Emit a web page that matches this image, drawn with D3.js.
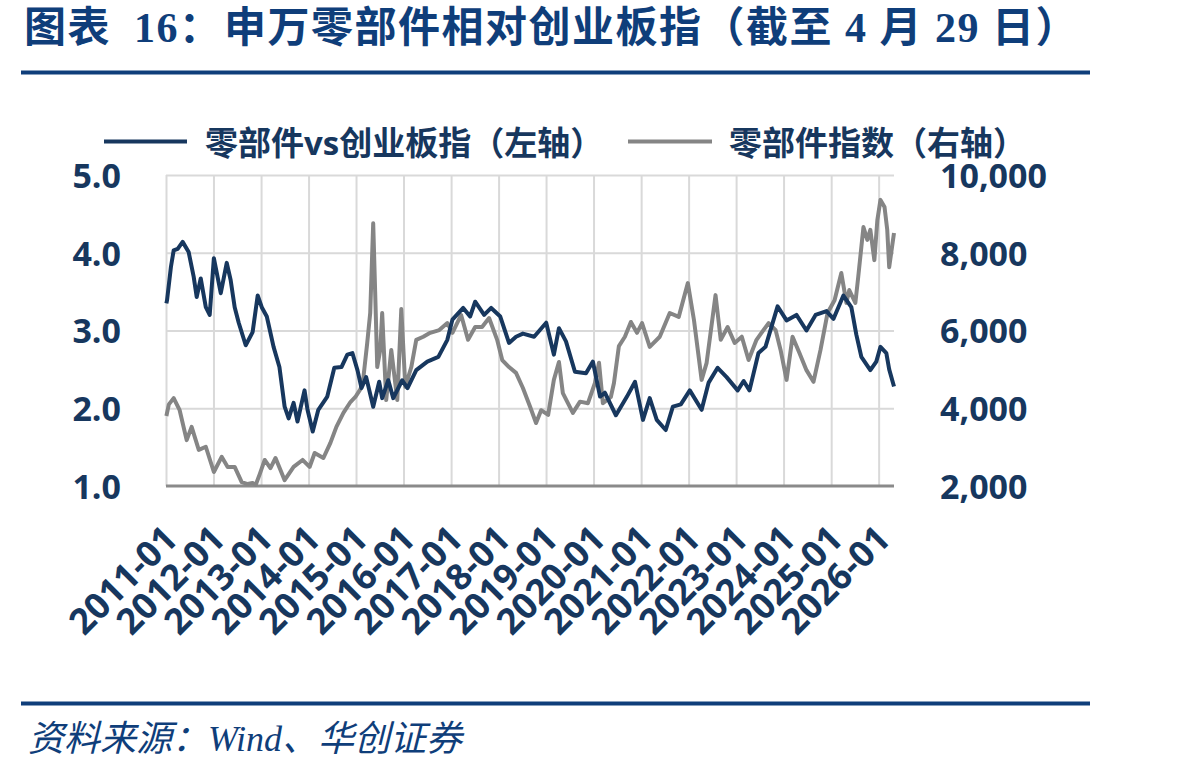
<!DOCTYPE html>
<html>
<head>
<meta charset="utf-8">
<script src="https://cdn.jsdelivr.net/npm/d3@7"></script>
<style>
  body { margin: 0; background: #fff; }
  svg { display: block; }
</style>
</head>
<body>
<div id="chart"></div>
<script>
// 零部件vs创业板指（左轴）
const relDates = [
  "2011-01-04","2011-01-09","2011-02-08","2011-03-01","2011-04-01","2011-05-09","2011-06-24","2011-08-02","2011-08-25","2011-09-25",
  "2011-11-03","2011-12-03","2012-01-04","2012-02-26","2012-04-12","2012-05-12","2012-06-12","2012-07-13","2012-09-05","2012-10-28",
  "2012-12-06","2013-01-06","2013-02-14","2013-04-07","2013-05-22","2013-07-01","2013-08-01","2013-09-08","2013-10-08","2013-12-01",
  "2013-12-24","2014-02-02","2014-03-17","2014-05-25","2014-07-18","2014-09-11","2014-10-26","2014-12-04","2015-01-12","2015-02-12",
  "2015-03-20","2015-05-13","2015-06-28","2015-07-21","2015-09-06","2015-10-14","2015-12-22","2016-02-01","2016-04-08","2016-07-02",
  "2016-09-25","2016-12-03","2017-01-11","2017-04-04","2017-05-27","2017-07-05","2017-09-12","2017-11-05","2018-01-14","2018-03-22",
  "2018-05-15","2018-07-07","2018-10-01","2019-01-02","2019-03-02","2019-04-10","2019-06-03","2019-08-11","2019-11-04","2019-12-27",
  "2020-02-20","2020-03-28","2020-06-21","2020-09-14","2020-11-15","2021-01-15","2021-03-08","2021-05-01","2021-07-09","2021-09-02",
  "2021-11-02","2022-01-10","2022-04-11","2022-06-04","2022-08-12","2022-10-20","2023-01-13","2023-02-28","2023-04-14","2023-06-22",
  "2023-08-15","2023-11-16","2024-01-24","2024-04-09","2024-06-25","2024-09-03","2024-11-26","2025-01-19","2025-04-05","2025-06-05",
  "2025-07-13","2025-08-21","2025-10-29","2025-12-14","2026-01-15","2026-03-01","2026-03-23","2026-04-29"
];
const relValues = [
  3.35, 3.39, 3.82, 4.03, 4.05, 4.14, 4.01, 3.69, 3.43, 3.67,
  3.30, 3.20, 3.93, 3.48, 3.87, 3.65, 3.30, 3.10, 2.81, 2.98,
  3.45, 3.30, 3.18, 2.79, 2.53, 2.02, 1.87, 2.07, 1.83, 2.23,
  1.98, 1.70, 1.98, 2.15, 2.52, 2.53, 2.69, 2.71, 2.49, 2.26,
  2.40, 2.02, 2.34, 2.13, 2.36, 2.13, 2.36, 2.26, 2.49, 2.60,
  2.66, 2.88, 3.14, 3.29, 3.18, 3.37, 3.20, 3.29, 3.18, 2.84,
  2.92, 2.96, 2.92, 3.10, 2.69, 3.03, 2.86, 2.47, 2.45, 2.60,
  2.15, 2.20, 1.91, 2.15, 2.34, 1.85, 2.13, 1.85, 1.72, 2.02,
  2.05, 2.23, 1.98, 2.33, 2.52, 2.40, 2.23, 2.35, 2.23, 2.71,
  2.79, 3.31, 3.13, 3.20, 3.00, 3.20, 3.25, 3.15, 3.45, 3.30,
  2.95, 2.66, 2.49, 2.60, 2.79, 2.71, 2.50, 2.28
];

// 零部件指数（右轴）
const idxDates = [
  "2011-01-04","2011-01-09","2011-01-23","2011-03-01","2011-04-16","2011-06-09","2011-07-17","2011-09-10","2011-11-03","2012-01-04",
  "2012-03-04","2012-04-19","2012-06-12","2012-08-05","2012-09-20","2012-10-28","2012-11-21","2012-12-21","2013-01-29","2013-03-14",
  "2013-04-22","2013-05-30","2013-07-01","2013-09-08","2013-11-16","2014-01-09","2014-02-17","2014-04-25","2014-06-18","2014-08-03",
  "2014-09-26","2014-11-19","2014-12-27","2015-02-05","2015-02-27","2015-03-28","2015-04-20","2015-05-13","2015-05-28","2015-06-13",
  "2015-07-06","2015-07-21","2015-08-21","2015-09-29","2015-11-14","2015-12-15","2016-01-15","2016-03-01","2016-04-08","2016-06-01",
  "2016-07-24","2016-10-02","2016-12-03","2017-01-11","2017-03-19","2017-05-11","2017-07-05","2017-08-27","2017-10-20","2017-12-21",
  "2018-01-29","2018-03-22","2018-05-15","2018-07-07","2018-09-01","2018-10-16","2018-11-24","2019-01-17","2019-03-02","2019-04-10",
  "2019-05-10","2019-07-26","2019-09-19","2019-11-19","2020-01-12","2020-02-12","2020-03-13","2020-05-13","2020-06-06","2020-07-14",
  "2020-08-29","2020-10-14","2020-11-30","2021-01-08","2021-03-08","2021-05-24","2021-08-09","2021-10-17","2021-12-26","2022-02-11",
  "2022-04-11","2022-05-19","2022-07-27","2022-09-05","2022-10-28","2022-12-21","2023-02-14","2023-04-07","2023-06-07","2023-07-15",
  "2023-09-08","2023-11-01","2023-12-09","2024-01-24","2024-03-10","2024-05-02","2024-06-25","2024-08-18","2024-10-11","2024-12-04",
  "2025-01-27","2025-03-20","2025-04-28","2025-05-20","2025-07-06","2025-07-28","2025-09-06","2025-10-06","2025-10-29","2025-11-29",
  "2025-12-22","2026-01-15","2026-02-15","2026-03-08","2026-03-23","2026-04-29"
];
const idxValues = [
  3800, 3880, 4100, 4260, 3950, 3180, 3520, 2930, 3010, 2360,
  2750, 2490, 2490, 2100, 2050, 2080, 2030, 2300, 2670, 2460,
  2720, 2410, 2150, 2490, 2670, 2490, 2850, 2720, 3110, 3520,
  3880, 4160, 4290, 4500, 4800, 5680, 6450, 8760, 7000, 5060,
  5500, 6450, 4210, 5500, 4210, 6550, 4550, 5060, 5760, 5840,
  5940, 6010, 6190, 5940, 6400, 5760, 6090, 6090, 6320, 5760,
  5240, 5060, 4910, 4520, 4030, 3620, 3950, 3830, 4730, 5190,
  4390, 3880, 4170, 4130, 4650, 5170, 4130, 4290, 4650, 5600,
  5840, 6220, 5940, 6190, 5580, 5840, 6450, 6350, 7220, 6270,
  4730, 5160, 6910, 5760, 6090, 5680, 5840, 5240, 5760, 5940,
  6190, 6010, 5500, 4730, 5840, 5420, 4980, 4680, 5500, 6450,
  6780, 7480, 6710, 7040, 6710, 7380, 8660, 8330, 8590, 7810,
  8840, 9360, 9180, 8590, 7630, 8510
];

const leftTicks = [1, 2, 3, 4, 5];
const rightTicks = [2000, 4000, 6000, 8000, 10000];
const yearTicks = ["2011-01","2012-01","2013-01","2014-01","2015-01","2016-01","2017-01","2018-01",
                   "2019-01","2020-01","2021-01","2022-01","2023-01","2024-01","2025-01","2026-01"];
const dateRange = ["2011-01-01", "2026-04-29"];

const seriesNames = ["零部件vs创业板指（左轴）", "零部件指数（右轴）"];
const titleLead = ["图表", "16："];
const titleMain = "申万零部件相对创业板指（截至 4 月 29 日）";
const sourceText = "资料来源：Wind、华创证券";

const width = 1198, height = 771;
const plot = { left: 166, right: 894, top: 175, bottom: 486 };
const navy = "#17375e", brand = "#0f3e7a", grey = "#858585", grid = "#d9d9d9";
const numFont = "'Open Sans', 'Noto Sans CJK SC', sans-serif";

const parseDay = d3.timeParse("%Y-%m-%d");
const parseMonth = d3.timeParse("%Y-%m");

const rel = relDates.map((d, i) => ({ date: parseDay(d), value: relValues[i] }));
const idx = idxDates.map((d, i) => ({ date: parseDay(d), value: idxValues[i] }));

const svg = d3.select("#chart").append("svg")
  .attr("width", width)
  .attr("height", height);

const x = d3.scaleTime()
  .domain(dateRange.map(parseDay))
  .range([plot.left, plot.right]);
const yLeft = d3.scaleLinear().domain([1, 5]).range([plot.bottom, plot.top]);
const yRight = d3.scaleLinear().domain([2000, 10000]).range([plot.bottom, plot.top]);

// title
const title = svg.append("text")
  .attr("y", 42)
  .attr("font-family", "'Liberation Serif', 'Noto Sans CJK SC', serif")
  .attr("font-weight", "bold")
  .attr("font-size", 42)
  .attr("letter-spacing", 1.5)
  .attr("fill", brand);
title.append("tspan").attr("x", 24).text(titleLead[0]);
title.append("tspan").attr("x", 134).text(titleLead[1]);
title.append("tspan").attr("x", 224).text(titleMain);

svg.append("rect").attr("x", 21).attr("y", 70.5).attr("width", 1069).attr("height", 4).attr("fill", brand);
svg.append("rect").attr("x", 21).attr("y", 701.5).attr("width", 1069).attr("height", 4).attr("fill", brand);

svg.append("text")
  .attr("x", 28)
  .attr("y", 751)
  .attr("font-family", "'Liberation Serif', 'Noto Sans CJK SC', serif")
  .attr("font-style", "italic")
  .attr("font-size", 36)
  .attr("fill", brand)
  .text(sourceText);

// legend
const legend = [
  { name: seriesNames[0], color: navy, x1: 104, x2: 187, tx: 205 },
  { name: seriesNames[1], color: grey, x1: 628, x2: 712, tx: 729 }
];
legend.forEach(l => {
  svg.append("line")
    .attr("x1", l.x1).attr("x2", l.x2)
    .attr("y1", 141.5).attr("y2", 141.5)
    .attr("stroke", l.color).attr("stroke-width", 4);
  svg.append("text")
    .attr("x", l.tx).attr("y", 155)
    .attr("font-family", numFont)
    .attr("font-weight", "bold")
    .attr("font-size", 33)
    .attr("fill", navy)
    .text(l.name);
});

// grid
svg.append("g")
  .attr("transform", `translate(0,${plot.bottom})`)
  .call(d3.axisBottom(x)
    .tickValues(yearTicks.map(parseMonth))
    .tickSize(-(plot.bottom - plot.top))
    .tickFormat(""))
  .call(g => g.select(".domain").remove())
  .call(g => g.selectAll("line").attr("stroke", grid).attr("stroke-width", 2));

svg.append("g")
  .attr("transform", `translate(${plot.left},0)`)
  .call(d3.axisLeft(yLeft)
    .tickValues(leftTicks.slice(1))
    .tickSize(-(plot.right - plot.left))
    .tickFormat(""))
  .call(g => g.select(".domain").remove())
  .call(g => g.selectAll("line").attr("stroke", grid).attr("stroke-width", 2));

// bottom axis line
svg.append("line")
  .attr("x1", plot.left).attr("x2", plot.right)
  .attr("y1", plot.bottom).attr("y2", plot.bottom)
  .attr("stroke", "#8a8a8a").attr("stroke-width", 3);

// series
const lineRel = d3.line().x(d => x(d.date)).y(d => yLeft(d.value));
const lineIdx = d3.line().x(d => x(d.date)).y(d => yRight(d.value));

svg.append("path").datum(idx)
  .attr("d", lineIdx)
  .attr("fill", "none").attr("stroke", grey)
  .attr("stroke-width", 4).attr("stroke-linejoin", "round");

svg.append("path").datum(rel)
  .attr("d", lineRel)
  .attr("fill", "none").attr("stroke", navy)
  .attr("stroke-width", 4).attr("stroke-linejoin", "round");

// axes labels
const styleTicks = g => g.selectAll("text")
  .attr("font-family", numFont)
  .attr("font-weight", "bold")
  .attr("font-size", 34)
  .attr("fill", navy);

svg.append("g")
  .attr("transform", `translate(${plot.left},0)`)
  .call(d3.axisLeft(yLeft).tickValues(leftTicks).tickFormat(d3.format(".1f")).tickSize(0).tickPadding(45))
  .call(g => g.select(".domain").remove())
  .call(styleTicks)
  .call(g => g.selectAll("text").attr("dy", "0.36em"));

svg.append("g")
  .attr("transform", `translate(${plot.right},0)`)
  .call(d3.axisRight(yRight).tickValues(rightTicks).tickFormat(d3.format(",")).tickSize(0).tickPadding(46))
  .call(g => g.select(".domain").remove())
  .call(styleTicks)
  .call(g => g.selectAll("text").attr("dy", "0.36em"));

svg.append("g")
  .attr("transform", `translate(0,${plot.bottom})`)
  .call(d3.axisBottom(x).tickValues(yearTicks.map(parseMonth)).tickFormat(d3.timeFormat("%Y-%m")).tickSize(0))
  .call(g => g.select(".domain").remove())
  .call(styleTicks)
  .call(g => g.selectAll("text")
    .attr("font-size", 36)
    .attr("x", 0).attr("y", 0)
    .attr("dy", "0.36em")
    .attr("text-anchor", "end")
    .attr("transform", "translate(4,46) rotate(-45)"));
</script>
</body>
</html>
